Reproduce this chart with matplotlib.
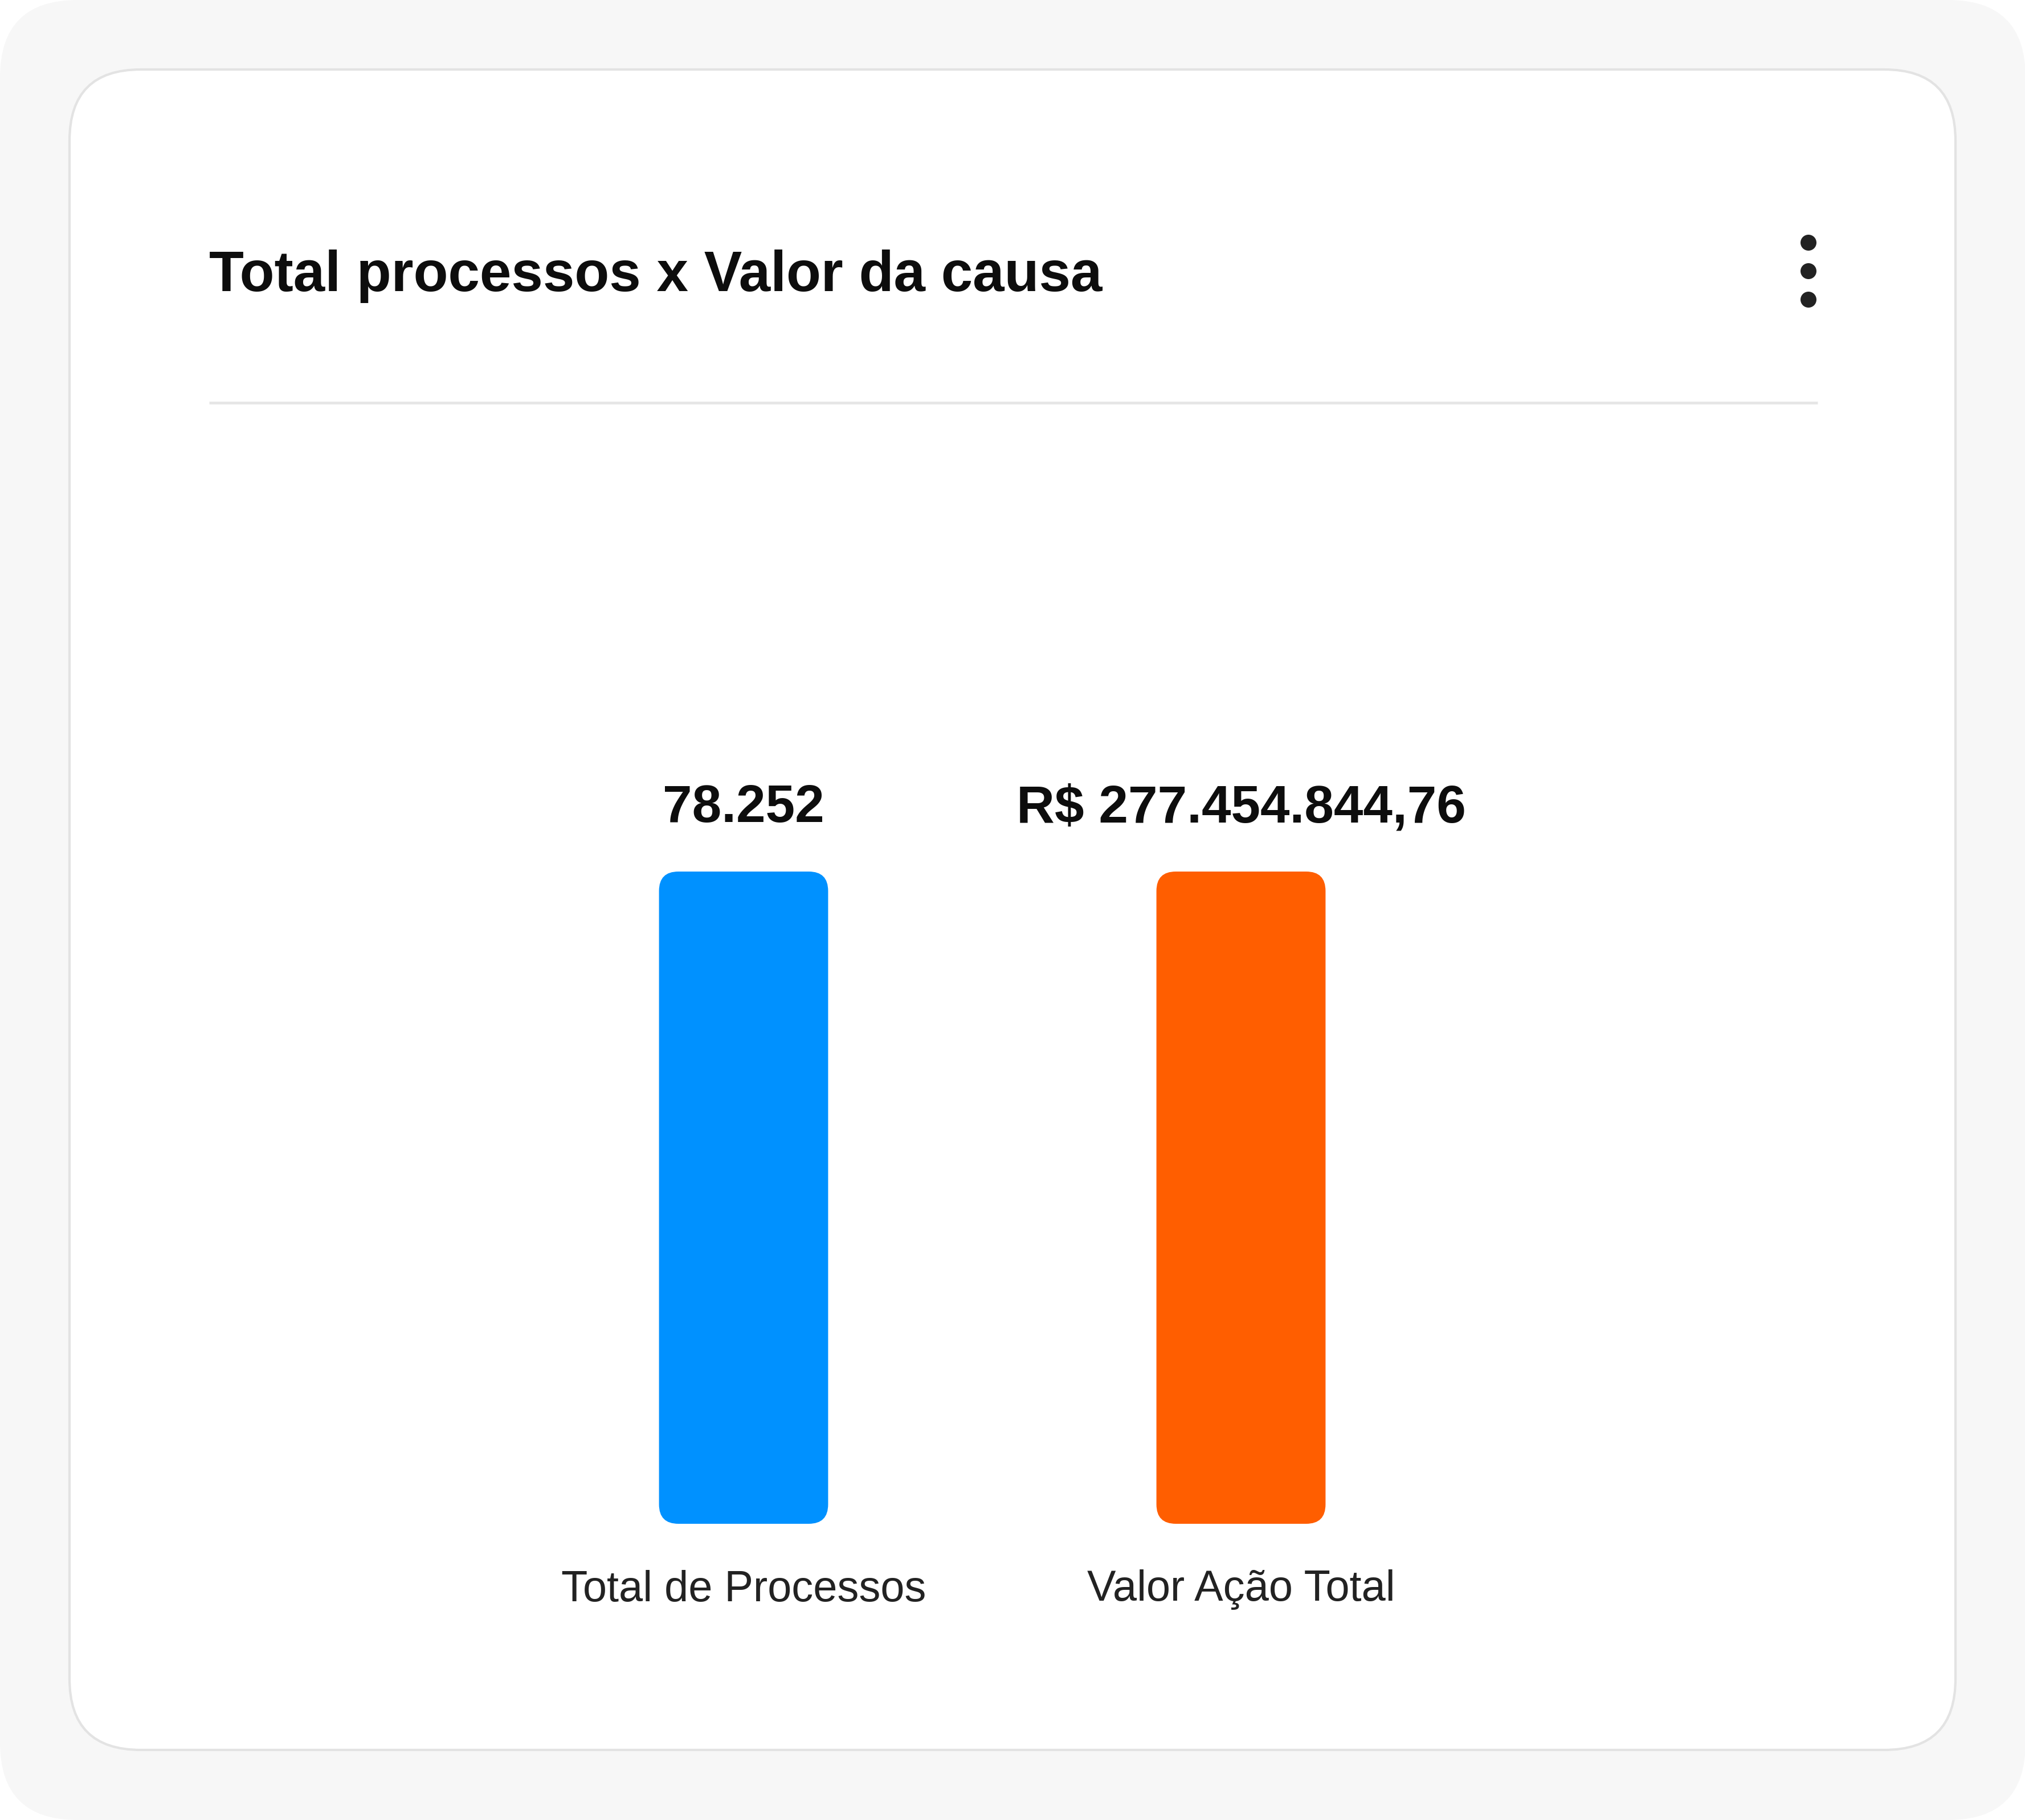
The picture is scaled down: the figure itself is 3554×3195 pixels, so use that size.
import matplotlib
matplotlib.use("Agg")
import matplotlib.pyplot as plt
from matplotlib.patches import FancyBboxPatch, Circle

plt.rcParams["font.family"] = ["Liberation Sans", "DejaVu Sans"]

# data
categories = ["Total de Processos", "Valor Ação Total"]
values = [78252, 277454844.76]
value_labels = ["78.252", "R$ 277.454.844,76"]
bar_heights = [100, 100]   # both bars drawn full height in the card
colors = ["#0091FF", "#FF5E00"]
title = "Total processos x Valor da causa"

W, H = 3555, 3195
fig = plt.figure(figsize=(W / 100, H / 100), dpi=100)

# background layer in pixel coords
bg = fig.add_axes([0, 0, 1, 1])
bg.set_xlim(0, W)
bg.set_ylim(H, 0)
bg.axis("off")

bg.add_patch(FancyBboxPatch((0, 0), W, H, boxstyle="round,pad=0,rounding_size=136",
                            fc="#f7f7f7", ec="none"))
bg.add_patch(FancyBboxPatch((122, 122), 3432 - 122, 3072 - 122,
                            boxstyle="round,pad=0,rounding_size=125",
                            fc="white", ec="#e3e3e3", lw=3))
bg.text(367, 485, title, fontsize=71.8, fontweight="bold", color="#0d0d0d",
        ha="left", va="center")
for yy in [426, 476, 526]:
    bg.add_patch(Circle((3174, yy), 14, fc="#222222", ec="none"))
bg.plot([367, 3190], [707, 707], color="#e6e6e6", lw=3.5, solid_capstyle="butt")

# bar axes
x0, x1 = 868.5, 2614.5
ytop, ybot = 1530, 2675
ax = fig.add_axes([x0 / W, 1 - ybot / H, (x1 - x0) / W, (ybot - ytop) / H])
ax.set_xlim(-0.5, 1.5)
ax.set_ylim(0, 100)
ax.axis("off")
ax.patch.set_alpha(0)

bw = 0.34
px_x = (x1 - x0) / 2.0
px_y = (ybot - ytop) / 100.0
r = 34 / px_x
bars = ax.bar(range(len(categories)), bar_heights, width=bw, color=colors)
for b, c in zip(bars, colors):
    b.set_visible(False)
    ax.add_patch(FancyBboxPatch((b.get_x(), b.get_y()), b.get_width(), b.get_height(),
                                boxstyle=f"round,pad=0,rounding_size={r}",
                                mutation_aspect=px_x / px_y, fc=c, ec="none"))

for i, (h, lab, cat) in enumerate(zip(bar_heights, value_labels, categories)):
    ax.annotate(lab, (i, h), xytext=(0, 111 * 0.72), textcoords="offset points",
                ha="center", va="center", fontsize=66.7, fontweight="bold", color="#0d0d0d")
    ax.annotate(cat, (i, 0), xytext=(0, -116 * 0.72), textcoords="offset points",
                ha="center", va="center", fontsize=54.5, color="#222222")

fig.savefig("out.png", dpi=100)
